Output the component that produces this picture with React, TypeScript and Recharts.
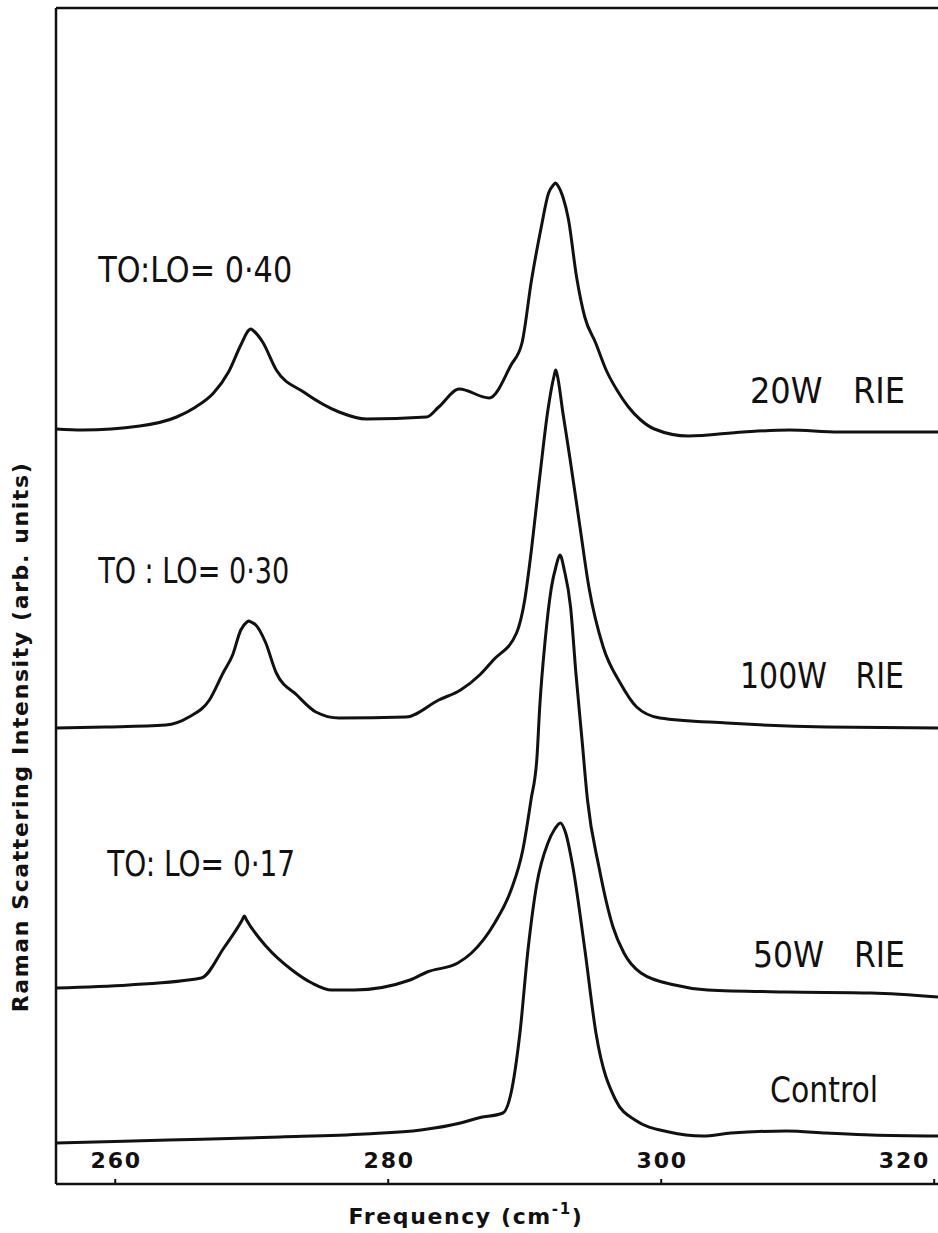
import React from 'react';
import { LineChart, Line, XAxis, YAxis, ReferenceDot } from 'recharts';

type Pt = { f: number; i: number };
const pts = (rows: number[][]): Pt[] => rows.map(([f, i]) => ({ f, i }));

// Raman shift (cm-1) and intensity above each trace's own baseline (arb. units)
const rie20 = pts([
  [255.66, 0], [257.6, -1], [261.8, 3], [264.5, 12], [265.9, 22], [267.2, 36], [268.3, 57],
  [269.2, 84], [269.8, 99], [269.95, 100], [270.15, 98], [270.8, 87], [271.8, 59], [273.8, 37],
  [276.4, 17], [278.4, 10], [282.8, 12], [283.7, 22], [285.2, 40], [287.4, 31], [289.0, 64],
  [289.8, 86], [290.5, 149], [291.2, 201], [291.75, 236], [292.1, 244], [292.25, 246],
  [292.45, 243], [292.8, 232], [293.2, 210], [293.8, 152], [294.4, 112], [295.2, 86],
  [296.0, 58], [296.8, 38], [297.6, 22], [298.5, 9], [299.5, 0], [302.0, -7], [306.0, -3],
  [309.4, -1], [313.0, -3], [320.28, -3],
]);

const rie100 = pts([
  [255.66, 0], [259.3, 1], [263.7, 3], [265.4, 11], [266.9, 28], [267.9, 55], [268.6, 73],
  [269.2, 98], [269.65, 106], [269.78, 107], [269.95, 106], [270.3, 103], [271.0, 86],
  [271.8, 55], [273.3, 33], [274.7, 16], [276.4, 10], [281.3, 11], [283.7, 28], [285.3, 38],
  [286.7, 53], [287.7, 68], [289.4, 95], [290.0, 128], [290.4, 168], [291.1, 251],
  [291.7, 318], [292.15, 352], [292.27, 358], [292.4, 352], [292.8, 315], [293.3, 271],
  [294.05, 201], [294.7, 141], [295.75, 81], [297.0, 45], [298.2, 21], [299.9, 10],
  [304.8, 5], [312.1, 1], [320.28, 0],
]);

const rie50 = pts([
  [255.66, 0], [261.0, 3], [266.3, 10], [268.0, 41], [269.3, 68], [269.46, 72], [269.62, 68],
  [271.1, 41], [272.95, 18], [274.4, 5], [275.85, -2], [277.5, -2], [281.6, 8], [282.85, 16],
  [285.1, 25], [286.1, 35], [287.8, 65], [289.0, 98], [289.86, 138], [290.46, 188],
  [290.9, 231], [291.1, 281], [291.5, 348], [291.95, 400], [292.3, 422], [292.58, 433],
  [292.9, 418], [293.36, 381], [293.75, 315], [294.2, 248], [294.6, 188], [295.44, 121],
  [296.47, 61], [297.27, 35], [298.52, 15], [301.0, 3], [303.4, -2], [309.2, -4], [315.4, -5],
  [320.28, -9],
]);

const control = pts([
  [255.66, 0], [263.9, 3], [272.1, 6], [278.3, 9], [282.4, 13], [285.3, 20], [286.6, 25],
  [288.4, 30], [289.0, 50], [289.65, 110], [290.24, 193], [290.9, 260], [291.7, 300],
  [292.2, 314], [292.62, 320], [293.0, 310], [293.53, 276], [294.41, 193], [295.22, 110],
  [296.66, 43], [298.08, 23], [300.57, 11], [303.06, 7], [305.1, 10], [309.2, 12], [312.1, 10],
  [315.4, 8], [320.28, 7],
]);

// spectra are stacked: each trace is lifted by its own offset
const spectra = [rie20, rie100, rie50, control];
const sampleNames = ['20W RIE', '100W RIE', '50W RIE', 'Control'];
const offsets = [755, 456, 196, 41];

const freqTicks = [260, 280, 300, 320];
const XDOMAIN: [number, number] = [255.66, 320.28];
const YDOMAIN: [number, number] = [0, 1176];

const INK = '#111';
const LETTERING = "'Liberation Sans Narrow', 'DejaVu Sans Condensed', 'Liberation Sans', sans-serif";
const BOLD = "'DejaVu Sans', 'Liberation Sans', sans-serif";

// hand lettering on the plot: sample names and TO:LO ratios
const notes = [
  { text: 'TO:LO= 0·40', f: 258.75, y: 902, w: 194, anchor: 'start' },
  { text: 'TO : LO= 0·30', f: 258.75, y: 601, w: 191, anchor: 'start' },
  { text: 'TO: LO= 0·17', f: 259.41, y: 308, w: 188, anchor: 'start' },
  { text: '20W   RIE', f: 317.86, y: 781, w: 155, anchor: 'end' },
  { text: '100W   RIE', f: 317.79, y: 496, w: 164, anchor: 'end' },
  { text: '50W   RIE', f: 317.86, y: 217, w: 152, anchor: 'end' },
  { text: 'Control', f: 315.89, y: 82, w: 108, anchor: 'end' },
];

const FreqTick = (props: any) => {
  const { x, y, payload } = props;
  const last = payload.value === freqTicks[freqTicks.length - 1];
  return (
    <g>
      <line x1={x} y1={y} x2={x} y2={y - 5} stroke={INK} strokeWidth={2} />
      <text
        x={last ? x - 4 : x + 1}
        y={y - 16}
        textAnchor={last ? 'end' : 'middle'}
        fontFamily={BOLD}
        fontWeight="bold"
        fontSize={22}
        letterSpacing={1.8}
        fill={INK}
      >
        {payload.value}
      </text>
    </g>
  );
};

const FreqTitle = () => (
  <text x={466} y={1224} textAnchor="middle" fontFamily={BOLD} fontWeight="bold" fontSize={22} letterSpacing={1.6} fill={INK}>
    Frequency (cm<tspan fontSize={15} dy={-10}>-1</tspan>
    <tspan dy={10}>)</tspan>
  </text>
);

const IntensityTitle = () => (
  <text
    x={28}
    y={737}
    transform="rotate(-90, 28, 737)"
    textAnchor="middle"
    fontFamily={BOLD}
    fontWeight="bold"
    fontSize={22}
    letterSpacing={1.6}
    fill={INK}
  >
    Raman Scattering Intensity (arb. units)
  </text>
);

export default function App() {
  const frame = { stroke: INK, strokeWidth: 2.5 };
  return (
    <div style={{ position: 'absolute', left: 0, top: 0, width: 938, height: 1233, background: '#fff' }}>
      <LineChart width={938} height={1233} margin={{ top: 7, right: 0, bottom: 48, left: 55 }}>
        <XAxis
          dataKey="f"
          type="number"
          domain={XDOMAIN}
          ticks={freqTicks}
          interval={0}
          allowDataOverflow
          height={1}
          tickSize={0}
          tickMargin={0}
          tickLine={false}
          axisLine={frame}
          tick={FreqTick}
          label={{ content: FreqTitle }}
        />
        <XAxis xAxisId="top" orientation="top" type="number" domain={XDOMAIN} height={1} tick={false} tickLine={false} axisLine={frame} />
        <YAxis
          type="number"
          domain={YDOMAIN}
          allowDataOverflow
          width={1}
          tick={false}
          tickLine={false}
          axisLine={frame}
          label={{ content: IntensityTitle }}
        />
        {spectra.map((s, k) => (
          <Line
            key={sampleNames[k]}
            name={sampleNames[k]}
            data={s.map((p) => ({ f: p.f, v: p.i + offsets[k] }))}
            dataKey="v"
            type="monotone"
            stroke={INK}
            strokeWidth={3}
            dot={false}
            isAnimationActive={false}
          />
        ))}
        {notes.map((n) => (
          <ReferenceDot
            key={n.text}
            x={n.f}
            y={n.y}
            r={0}
            ifOverflow="visible"
            shape={(p: any) => (
              <text
                x={p.cx}
                y={p.cy}
                textAnchor={n.anchor}
                fontFamily={LETTERING}
                fontSize={36}
                textLength={n.w}
                lengthAdjust="spacingAndGlyphs"
                style={{ whiteSpace: 'pre' }}
                fill={INK}
              >
                {n.text}
              </text>
            )}
          />
        ))}
      </LineChart>
    </div>
  );
}
